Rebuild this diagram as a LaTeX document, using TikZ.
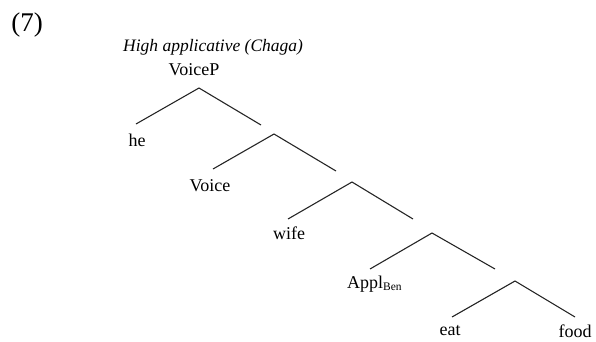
\documentclass[tikz,border=0pt]{standalone}
\usepackage{fontspec}
\setmainfont{Liberation Serif}
\begin{document}
\begin{tikzpicture}[x=1pt,y=-1pt,
  lbl/.style={inner sep=0pt,font=\fontsize{18}{21}\selectfont},
  branch/.style={line width=1.1pt,draw=black!85}]
\useasboundingbox (0,0) rectangle (596,341);
\node[inner sep=0pt,font=\fontsize{27}{30}\selectfont] (ex) at (27,25) {(7)};
\node[inner sep=0pt,anchor=west,font=\fontsize{17.5}{20}\selectfont\itshape] (title) at (123,47) {High applicative (Chaga)};
\node[lbl] (voicep) at (194,70) {VoiceP};
\node[lbl] (he) at (137,140) {he};
\node[lbl] (voice) at (210,186) {Voice};
\node[lbl] (wife) at (289,233) {wife};
\node[lbl,anchor=west] (appl) at (347,284) {Appl\textsubscript{\fontsize{11.5}{12}\selectfont Ben}};
\node[lbl] (eat) at (450,331) {eat};
\node[lbl] (food) at (575,331) {food};
\coordinate (a1) at (199,88); \coordinate (l1) at (136,124); \coordinate (r1) at (261,125);
\coordinate (a2) at (274,134); \coordinate (l2) at (213,169); \coordinate (r2) at (336,171);
\coordinate (a3) at (352,182); \coordinate (l3) at (288,219); \coordinate (r3) at (413,219);
\coordinate (a4) at (432,233); \coordinate (l4) at (370,269); \coordinate (r4) at (495,269);
\coordinate (a5) at (515,281); \coordinate (l5) at (452,317); \coordinate (r5) at (575,317);
\foreach \i in {1,...,5} {
  \draw[branch] (l\i) -- (a\i) -- (r\i);
}
\end{tikzpicture}
\end{document}
